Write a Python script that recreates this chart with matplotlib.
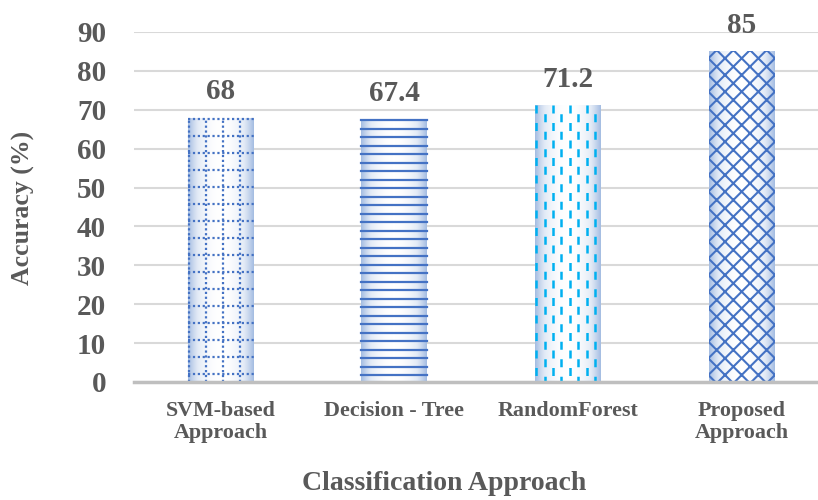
import numpy as np
import matplotlib.pyplot as plt
from matplotlib.colors import LinearSegmentedColormap

plt.rcParams['font.family'] = ['Liberation Serif', 'DejaVu Serif']
plt.rcParams['font.weight'] = 'bold'
plt.rcParams['hatch.linewidth'] = 1.5

categories = ['SVM-based\nApproach', 'Decision - Tree', 'RandomForest', 'Proposed\nApproach']
accuracy = [68, 67.4, 71.2, 85]
value_labels = ['68', '67.4', '71.2', '85']
yticks = [0, 10, 20, 30, 40, 50, 60, 70, 80, 90]

TEXT = '#595959'
BLUE = '#4472C4'
CYAN = '#00B0F0'

fig = plt.figure(figsize=(8.18, 5.0), dpi=100)
ax = fig.add_axes([134 / 818, 118 / 500, 684 / 818, 350 / 500])

x = np.arange(len(categories))
width = 0.38
bars = ax.bar(x, accuracy, width, color='none', edgecolor='none', zorder=2)

ax.set_xlim(-0.5, 3.44)
ax.set_ylim(0, 90)

# horizontal gradient fill: blue-ish at edges, white in the middle
grad_cmap = LinearSegmentedColormap.from_list('g', ['#FFFFFF', '#E2EAF6', '#A4BCE2'])
t = np.linspace(-1, 1, 200)
grad = (np.abs(t) ** 2.0)[None, :]
for b in bars:
    x0, w, h = b.get_x(), b.get_width(), b.get_height()
    im = ax.imshow(grad, cmap=grad_cmap, vmin=0, vmax=1, aspect='auto',
                   extent=[x0, x0 + w, 0, h], zorder=2, interpolation='bilinear')
    im.set_clip_path(b)

xpx = 1 / 174.0      # data units per pixel (x)
ypx = 90 / 350.0     # data units per pixel (y)

# bar 1: dotted grid
b = bars[0]
x0, w, h = b.get_x(), b.get_width(), b.get_height()
for xx in np.arange(x0 + 1.5 * xpx, x0 + w, 17 * xpx):
    ax.plot([xx, xx], [0, h], color=BLUE, lw=1.6, ls=(0, (1, 1.2)), zorder=3, clip_path=b)
for yy in np.arange(h - 1.5 * ypx, 0, -17 * ypx):
    ax.plot([x0, x0 + w], [yy, yy], color=BLUE, lw=1.6, ls=(0, (1, 1.2)), zorder=3, clip_path=b)

# bar 2: horizontal solid lines
b = bars[1]
x0, w, h = b.get_x(), b.get_width(), b.get_height()
for yy in np.arange(h - 0.5 * ypx, 0, -8.5 * ypx):
    ax.plot([x0, x0 + w], [yy, yy], color=BLUE, lw=1.6, zorder=3, clip_path=b)

# bar 3: staggered vertical dashes
b = bars[2]
x0, w, h = b.get_x(), b.get_width(), b.get_height()
for i, xx in enumerate(np.arange(x0 + 1 * xpx, x0 + w, 8.5 * xpx)):
    off = 0 if i % 2 == 0 else 3.5
    ax.plot([xx, xx], [h, 0], color=CYAN, lw=1.8, ls=(off, (3.2, 3.8)), zorder=3, clip_path=b)

# bar 4: diagonal lattice
b = bars[3]
b.set_hatch('xx')
b.set_edgecolor(BLUE)
b.set_linewidth(0)
b.set_zorder(3)

for xi, v, lab in zip(x, accuracy, value_labels):
    ax.text(xi, v + 3.2, lab, ha='center', va='bottom', fontsize=21,
            fontweight='bold', color=TEXT, clip_on=False)

ax.set_yticks(yticks)
ax.set_yticklabels([str(v) for v in yticks], fontsize=21, fontweight='bold', color=TEXT)
ax.set_xticks(x)
ax.set_xticklabels(categories, fontsize=15.8, fontweight='bold', color=TEXT, linespacing=1.1)
ax.tick_params(axis='both', length=0)
ax.tick_params(axis='y', pad=20)
ax.tick_params(axis='x', pad=14)

ax.yaxis.grid(True, color='#D9D9D9', lw=1.5, zorder=0)
ax.set_axisbelow(True)
for s in ['top', 'right', 'left']:
    ax.spines[s].set_visible(False)
ax.spines['bottom'].set_color('#BFBFBF')
ax.spines['bottom'].set_linewidth(2.5)
ax.spines['bottom'].set_zorder(4)

fig.text(23 / 818, 1 - 208 / 500, 'Accuracy (%)', rotation=90, ha='center', va='center',
         fontsize=18.5, fontweight='bold', color=TEXT)
fig.text(444 / 818, 1 - 484 / 500, 'Classification Approach', ha='center', va='center',
         fontsize=20, fontweight='bold', color=TEXT)

fig.savefig('out.png', dpi=100)
